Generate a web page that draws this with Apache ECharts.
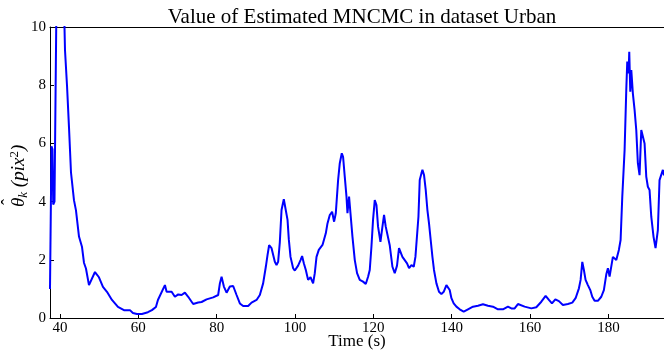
<!DOCTYPE html>
<html>
<head>
<meta charset="utf-8">
<script src="https://cdn.jsdelivr.net/npm/echarts@6/dist/echarts.min.js"></script>
<style>html,body{margin:0;padding:0;background:#fff}#c{width:664px;height:354px}</style>
</head>
<body>
<div id="c"></div>
<script>
const times = [37.45,37.58,37.83,38.09,38.27,38.6,39.11,39.49,40.51,41.10,41.28,41.79,42.3,42.81,43.57,44.08,44.85,45.61,46.12,46.63,47.4,47.91,48.93,49.95,50.97,51.99,53.27,54.8,56.33,57.86,58.62,59.64,60.92,62.45,63.47,64.49,65.0,65.51,66.79,67.22,68.5,68.9,69.34,70.18,71.05,71.89,72.73,73.6,74.01,75.28,76.15,77.42,79.11,80.38,80.82,81.25,81.84,82.53,83.37,84.21,85.08,85.92,86.76,88.04,88.9,90.18,91.02,91.86,92.55,92.98,93.39,94.01,94.41,94.85,95.28,95.69,96.12,96.56,97.14,97.65,98.09,98.42,98.85,99.52,99.95,100.79,101.41,101.81,102.25,102.76,103.34,103.96,104.62,105.05,105.49,106.07,106.51,107.02,107.42,107.86,108.29,108.88,109.47,109.98,110.41,111.0,111.43,111.94,112.27,112.7,113.14,113.39,113.8,114.16,114.67,115.26,115.84,116.53,117.37,118.06,118.65,119.08,119.51,119.92,120.36,120.79,121.2,121.81,122.32,122.73,123.16,123.6,124.18,124.87,125.46,126.04,126.55,126.99,127.42,128.01,128.6,129.11,129.72,130.31,130.74,131.15,131.51,131.84,132.27,132.53,132.94,133.37,133.8,134.21,134.64,135.08,135.48,136.1,136.76,137.37,137.96,138.65,139.06,139.49,139.93,140.51,141.2,142.04,143.06,144.16,145.43,146.71,147.98,149.26,150.54,151.81,153.09,154.36,155.23,156.07,156.91,157.35,158.62,160.33,161.6,162.88,163.98,164.82,165.59,166.46,167.37,168.39,169.67,170.79,171.63,172.48,172.91,173.34,173.75,174.18,174.77,175.38,175.89,176.48,177.32,178.19,178.85,179.47,179.88,180.31,181.15,182.02,182.68,183.12,183.55,184.14,184.57,184.82,185.16,185.33,185.59,185.85,186.25,186.69,187.12,187.53,187.96,188.4,188.8,189.24,189.67,190.08,190.51,190.95,191.53,192.04,192.63,193.06,193.5,193.91,194.2];
const values = [1.0,1.0,5.9,5.8,3.9,4.0,11,12,12,10.3,9.2,8.0,6.55,5.0,4.05,3.7,2.8,2.45,1.9,1.7,1.13,1.13,1.58,1.4,1.07,0.9,0.62,0.38,0.27,0.27,0.17,0.14,0.14,0.2,0.27,0.38,0.62,0.68,1.13,0.9,0.9,0.85,0.73,0.81,0.79,0.87,0.73,0.56,0.48,0.53,0.55,0.64,0.71,0.79,1.19,1.42,1.08,0.87,1.08,1.1,0.79,0.5,0.41,0.41,0.53,0.62,0.79,1.19,1.76,2.16,2.5,2.4,2.34,1.93,1.82,1.93,2.6,3.71,4.08,4.05,3.37,2.7,2.1,1.71,1.63,1.8,1.99,2.13,1.88,1.65,1.31,1.4,1.19,1.54,2.1,2.34,2.4,2.51,2.45,2.91,3.25,3.54,3.65,3.31,3.6,4.74,5.32,5.66,5.54,4.86,4.17,3.6,4.17,3.6,2.79,1.99,1.54,1.31,1.25,1.17,1.42,1.65,2.45,3.37,4.05,3.88,3.14,2.62,3.14,3.54,3.14,3.08,2.5,1.76,1.54,1.8,2.4,2.45,2.1,1.99,1.88,1.71,1.82,1.76,2.1,2.05,3.48,4.74,4.97,5.09,4.91,4.4,3.71,3.25,2.68,2.1,1.65,1.19,0.9,0.82,0.9,1.13,1.19,0.96,0.68,0.5,0.39,0.3,0.22,0.3,0.39,0.42,0.47,0.42,0.39,0.3,0.3,0.39,0.33,0.33,0.48,0.5,0.39,0.33,0.37,0.56,0.76,0.62,0.5,0.64,0.58,0.45,0.48,0.53,0.68,1.02,1.31,1.93,1.65,1.31,1.13,0.96,0.73,0.59,0.59,0.73,0.96,1.5,1.71,1.42,2.1,1.99,2.34,2.68,4.17,5.77,7.84,8.81,8.41,9.15,7.78,8.52,7.72,7.15,6.46,5.32,4.91,6.46,6.52,6.0,4.86,4.51,4.4,3.48,2.79,2.4,3.02,4.74,4.68,5.09,4.9];
const xTicks = [40,60,80,100,120,140,160,180];
const yTicks = [0,2,4,6,8,10];
const titleText = 'Value of Estimated MNCMC in dataset Urban';
const xName = 'Time (s)';
const yNameRich = '{t|θ}{s|k}{t| (}{i|pix}{p|2}{t|)}';
const yNameHat = 'ˆ';

const data = times.map((t, i) => [t, values[i]]);
const font = 'Liberation Serif';
const chart = echarts.init(document.getElementById('c'), null, {renderer: 'canvas'});
chart.setOption({
  animation: false,
  title: {
    text: titleText, left: 357, textAlign: 'center', top: 2,
    textStyle: {fontFamily: font, fontSize: 21, fontWeight: 'normal', color: '#000'}
  },
  graphic: [{
    type: 'group', x: 19, y: 175, rotation: Math.PI / 2,
    children: [{
      type: 'text', x: -32, y: 0,
      style: {
        text: yNameRich, align: 'left', verticalAlign: 'middle', fill: '#000',
        rich: {
          t: {fontFamily: font, fontSize: 19, fontStyle: 'italic', fill: '#000'},
          s: {fontFamily: font, fontSize: 13, fontStyle: 'italic', fill: '#000', padding: [9, 0, 0, 0]},
          i: {fontFamily: font, fontSize: 19, fontStyle: 'italic', fill: '#000'},
          p: {fontFamily: font, fontSize: 13, fill: '#000', padding: [0, 0, 9, 0]}
        }
      }
    }, {
      type: 'text', x: -30, y: -10,
      style: {text: yNameHat, font: '18px "Liberation Serif"', align: 'left', verticalAlign: 'middle', fill: '#000'}
    }]
  }],
  grid: {left: 50, right: 0, top: 27, bottom: 36, containLabel: false, outerBoundsMode: 'none'},
  xAxis: [{
    type: 'value', min: 37.45, max: 194.2,
    name: xName, nameLocation: 'middle', nameGap: 15, nameMoveOverlap: false,
    nameTextStyle: {fontFamily: font, fontSize: 17, color: '#000'},
    axisLine: {show: true, onZero: false, lineStyle: {color: '#000', width: 1}},
    axisTick: {show: true, inside: true, length: 4, customValues: xTicks, lineStyle: {color: '#000'}},
    axisLabel: {customValues: xTicks, fontFamily: font, fontSize: 15, color: '#000', margin: 3},
    splitLine: {show: false}
  }, {
    type: 'value', position: 'top', min: 37.45, max: 194.2,
    axisLine: {show: true, onZero: false, lineStyle: {color: '#000', width: 1}},
    axisTick: {show: false}, axisLabel: {show: false}, splitLine: {show: false}
  }],
  yAxis: {
    type: 'value', min: 0, max: 10, interval: 2,
    axisLine: {show: true, lineStyle: {color: '#000', width: 1}},
    axisTick: {show: true, inside: true, length: 4, lineStyle: {color: '#000'}},
    axisLabel: {fontFamily: font, fontSize: 15, color: '#000', margin: 4},
    splitLine: {show: false}
  },
  series: [{
    type: 'line', data: data, showSymbol: false, clip: true,
    lineStyle: {color: '#0000ff', width: 2}, itemStyle: {color: '#0000ff'}
  }]
});
</script>
</body>
</html>
